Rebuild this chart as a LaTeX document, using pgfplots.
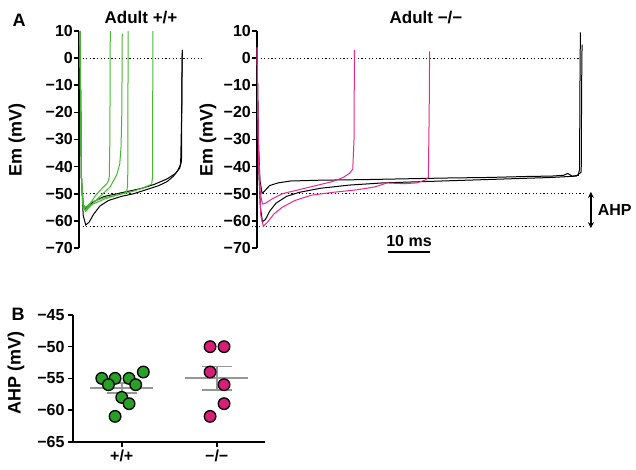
\documentclass[border=0pt]{standalone}
\usepackage{fontspec}
\setmainfont{Liberation Sans}
\usepackage{pgfplots}
\pgfplotsset{compat=1.18}
\usetikzlibrary{arrows.meta}
\definecolor{trgreen}{RGB}{70,185,50}
\definecolor{trpink}{RGB}{232,40,140}
\definecolor{dotgreen}{RGB}{40,160,40}
\definecolor{dotpink}{RGB}{215,30,120}
\definecolor{semgray}{RGB}{150,150,150}

\newcommand{\lbl}{\bfseries\fontsize{16}{18}\selectfont}

\pgfplotsset{
  emaxis/.style={
    scale only axis, height=217pt, ymin=-70, ymax=10,
    axis x line=none, axis y line=left,
    axis line style={-, line width=1.6pt},
    ytick={-70,-60,...,10},
    yticklabels={−70,−60,−50,−40,−30,−20,−10,0,10},
    tick align=outside, major tick length=5pt,
    tick style={line width=1.6pt, black},
    yticklabel style={font=\lbl, fill=white, inner sep=1pt},
    clip=false,
  },
  trace/.style={line width=1pt, mark=none},
  dots/.style={black, line width=0.8pt, dash pattern=on 1.2pt off 2.4pt},
}

\begin{document}
\begin{tikzpicture}
\useasboundingbox (0,0) rectangle (636pt,-470pt);

% ---- A, wild type ----
\begin{axis}[emaxis, at={(79pt,-248pt)}, anchor=south west,
  width=121pt, xmin=0, xmax=28.81]
\addplot[dots] coordinates {(0,0) (29.3,0)};
\addplot[dots] coordinates {(0,-50) (120.2,-50)};
\addplot[dots] coordinates {(0,-62) (120.2,-62)};
% black
\addplot[trace, black] coordinates {
 (0.2,10) (0.6,-45) (1.0,-58) (1.6,-61.5) (2.4,-60.5) (3.5,-57.5) (5,-54.5)
 (7,-52.5) (10,-51) (13,-50) (16,-48.5) (19,-47) (21,-45.5) (22.5,-43.5)
 (23.5,-41.5) (24.2,-39) (24.45,-20) (24.55,0) (24.6,3)};
\addplot[trace, black] coordinates {
 (0.2,10) (0.6,-45) (1.0,-54) (1.5,-55.5) (2.5,-54) (4,-52.5) (6,-51)
 (9,-50) (12,-49) (15,-48) (18,-46.5) (21,-44.5) (23,-42.5) (24,-40.5)
 (24.4,-38) (24.5,-10) (24.6,3)};
% green
\addplot[trace, trgreen] coordinates {
 (0.2,10) (0.6,-45) (1.0,-54) (1.5,-56) (2.5,-54) (4,-50.5) (5.5,-48)
 (6.8,-46) (7.2,-44) (7.35,-30) (7.45,10)};
\addplot[trace, trgreen] coordinates {
 (0.2,10) (0.6,-45) (1.0,-55) (1.6,-56.5) (3,-54) (5,-51) (7.4,-47.5)
 (9,-43) (9.7,-39) (10.0,-33) (10.2,-20) (10.3,9)};
\addplot[trace, trgreen] coordinates {
 (0.2,10) (0.6,-45) (1.0,-55) (1.6,-56) (3,-54) (6,-52) (9,-50.5)
 (11.3,-49.5) (11.6,-47) (11.7,10)};
\addplot[trace, trgreen] coordinates {
 (0.2,10) (0.6,-45) (1.0,-54) (1.6,-55) (3,-53) (6,-51.5) (9,-50.5)
 (12,-49.5) (15,-48) (17.3,-46.5) (17.5,-44) (17.6,10)};
\end{axis}

% ---- A, knockout ----
\begin{axis}[emaxis, at={(257pt,-248pt)}, anchor=south west,
  width=328pt, xmin=0, xmax=78.1]
\addplot[dots] coordinates {(0,0) (77.1,0)};
% black
\addplot[trace, black] coordinates {
 (0,4) (0.3,-30) (0.7,-45) (1.2,-49.9) (1.8,-49) (3,-47) (5,-46) (8,-45.3)
 (15,-45) (25,-44.8) (35,-44.5) (45,-44.2) (55,-44) (65,-43.6) (70,-43.5)
 (73,-43.2) (74,-42.5) (75,-43.5) (76.5,-43.2) (76.8,-41) (76.9,-10) (77.0,9.5)};
\addplot[trace, black] coordinates {
 (0,4) (0.4,-40) (0.8,-55) (1.3,-60.3) (2,-59.5) (3,-56.5) (4.5,-53.5)
 (7,-51) (10,-49.5) (15,-48) (22,-46.8) (30,-46) (40,-45.5) (50,-45)
 (60,-44.5) (70,-44) (76,-43.5) (77.2,-42) (77.3,-10) (77.4,5)};
% pink
\addplot[trace, trpink] coordinates {
 (0,4) (0.3,-30) (0.8,-50) (1.3,-53.8) (2,-53.5) (3.5,-52) (6,-50)
 (10,-48.5) (14,-47) (18,-45.5) (20.5,-44) (22,-42.5) (22.8,-41)
 (23.1,-30) (23.2,3)};
\addplot[trace, trpink] coordinates {
 (0,4) (0.4,-40) (0.9,-58) (1.5,-62) (2.5,-60.5) (4,-57.5) (6,-55)
 (9,-52.5) (13,-50.5) (18,-49.5) (24,-48.5) (28,-47.5) (31,-46) (35,-46.3)
 (38,-46) (40,-45) (40.8,-44) (41.0,-20) (41.1,2.5)};
% scale bar and AHP arrow
\draw[line width=1.2pt] (axis cs:31.2,-71.5) -- (axis cs:41.2,-71.5);
\node[font=\lbl] at (axis cs:36.2,-67.3) {10 ms};
\draw[{Stealth[length=6pt,width=6pt]}-{Stealth[length=6pt,width=6pt]}, line width=1.6pt]
  (axis cs:79.5,-49.3) -- (axis cs:79.5,-62.7);
\node[font=\lbl, anchor=west] at (axis cs:80.3,-56) {AHP};
\end{axis}

% ---- B ----
\begin{axis}[scale only axis, at={(73pt,-441.7pt)}, anchor=south west,
  width=192pt, height=126.7pt,
  xmin=-0.513, xmax=1.508, ymin=-65, ymax=-45,
  axis lines=left, axis line style={-, line width=1.6pt},
  xtick={0,1}, xticklabels={+/+,−/−},
  ytick={-65,-60,...,-45}, yticklabels={−65,−60,−55,−50,−45},
  tick align=outside, major tick length=5pt,
  tick style={line width=1.6pt, black},
  ticklabel style={font=\lbl},
  clip=false]
\addplot[only marks, mark=*, mark size=5.8pt,
  mark options={fill=dotgreen, draw=black, line width=1.3pt}] coordinates {
 (-0.21,-55) (-0.07,-55) (0.077,-55) (0.227,-54) (-0.14,-56) (0.147,-56)
 (0,-58) (0.077,-59) (-0.07,-61)};
\addplot[only marks, mark=*, mark size=5.8pt,
  mark options={fill=dotpink, draw=black, line width=1.3pt}] coordinates {
 (0.93,-50) (1.077,-50) (0.93,-54) (1.077,-56) (1.077,-59) (0.93,-61)};
% mean +- SEM
\addplot[semgray, line width=1.8pt] coordinates {(-0.33,-56.56) (0.33,-56.56)};
\addplot[semgray, line width=1.8pt] coordinates {(-0.16,-55.79) (0.16,-55.79)};
\addplot[semgray, line width=1.8pt] coordinates {(-0.16,-57.33) (0.16,-57.33)};
\addplot[semgray, line width=1.8pt] coordinates {(0,-55.79) (0,-57.33)};
\addplot[semgray, line width=1.8pt] coordinates {(0.67,-55) (1.33,-55)};
\addplot[semgray, line width=1.8pt] coordinates {(0.84,-53.14) (1.16,-53.14)};
\addplot[semgray, line width=1.8pt] coordinates {(0.84,-56.86) (1.16,-56.86)};
\addplot[semgray, line width=1.8pt] coordinates {(1,-53.14) (1,-56.86)};
\end{axis}

% labels
\node[font=\bfseries\fontsize{18}{20}\selectfont] at (19pt,-20pt) {A};
\node[font=\bfseries\fontsize{18}{20}\selectfont] at (18pt,-314pt) {B};
\node[font=\bfseries\fontsize{17}{19}\selectfont] at (141pt,-18pt) {Adult +/+};
\node[font=\bfseries\fontsize{17}{19}\selectfont] at (426pt,-18pt) {Adult −/−};
\node[font=\bfseries\fontsize{18}{20}\selectfont, rotate=90] at (17pt,-140pt) {Em (mV)};
\node[font=\bfseries\fontsize{18}{20}\selectfont, rotate=90] at (208pt,-140pt) {Em (mV)};
\node[font=\bfseries\fontsize{18}{20}\selectfont, rotate=90] at (16pt,-373pt) {AHP (mV)};
\end{tikzpicture}
\end{document}
